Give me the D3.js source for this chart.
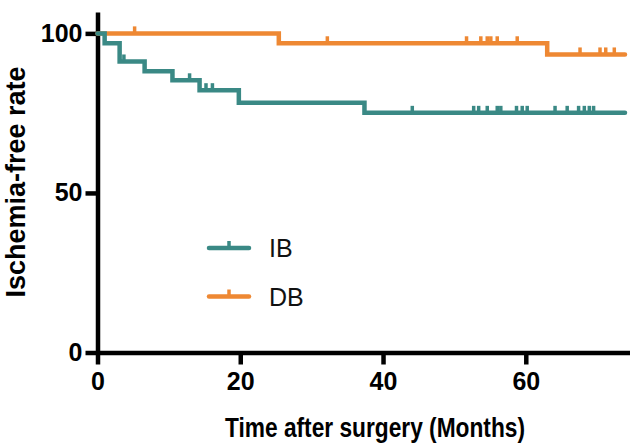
<!DOCTYPE html>
<html>
<head>
<meta charset="utf-8">
<script src="https://cdn.jsdelivr.net/npm/d3@7"></script>
<style>
  body { margin: 0; background: #fff; }
  svg { display: block; }
  text { font-family: "Liberation Sans", Arial, sans-serif; }
</style>
</head>
<body>
<svg id="chart" width="630" height="445"></svg>
<script>
// survival steps: [time (months), survival % from that time on]
const ibSteps = [[0, 100], [1.0, 96.9], [3.1, 91.2], [6.6, 88.1], [10.5, 85.3], [14.3, 82.2], [19.8, 78.3], [37.4, 75.1]];
const dbSteps = [[0, 100], [25.4, 96.9], [63.0, 93.4]];
const ibCensored = [3.7, 12.9, 15.2, 16.1, 44.1, 52.7, 53.4, 54.6, 56.0, 56.5, 58.7, 59.5, 60.2, 64.1, 65.8, 67.4, 68.2, 68.9, 69.5];
const dbCensored = [5.2, 32.2, 51.7, 53.7, 54.6, 55.1, 56.0, 58.8, 67.6, 70.4, 71.2, 72.4];
const followUpEnd = 73.9;
const xTicks = [0, 20, 40, 60];
const yTicks = [0, 50, 100];

const colors = { IB: "#3a8985", DB: "#ee8833" };

const svg = d3.select("#chart");

const x = d3.scaleLinear().domain([0, 74.6]).range([97.5, 630]);
const y = d3.scaleLinear().domain([0, 106.7]).range([352.5, 12]);

// value of a step curve at time t
function survAt(steps, t) {
    let v = steps[0][1];
    steps.forEach(s => { if (s[0] <= t) v = s[1]; });
    return v;
}

const line = d3.line()
    .x(d => x(d[0]))
    .y(d => y(d[1]))
    .curve(d3.curveStepAfter);

function drawCurve(steps, censored, color) {
    let pts = steps.concat([[followUpEnd, steps[steps.length - 1][1]]]);
    svg.append("path")
        .datum(pts)
        .attr("fill", "none")
        .attr("stroke", color)
        .attr("stroke-width", 4.5)
        .attr("stroke-linecap", "round")
        .attr("stroke-linejoin", "miter")
        .attr("d", line);

    svg.append("g").selectAll("line")
        .data(censored)
        .enter().append("line")
        .attr("x1", d => x(d))
        .attr("x2", d => x(d))
        .attr("y1", d => y(survAt(steps, d)))
        .attr("y2", d => y(survAt(steps, d)) - 7)
        .attr("stroke", color)
        .attr("stroke-width", 3.5);
}

// Axes
const xAxis = svg.append("g")
    .attr("transform", `translate(0,${y(0)})`)
    .call(d3.axisBottom(x).tickValues(xTicks).tickSize(12).tickSizeOuter(0).tickPadding(8));

const yAxis = svg.append("g")
    .attr("transform", `translate(${x(0)},0)`)
    .call(d3.axisLeft(y).tickValues(yTicks).tickSize(12).tickSizeOuter(0).tickPadding(3));

[xAxis, yAxis].forEach(a => {
    a.select(".domain").attr("stroke", "#000").attr("stroke-width", 4.5);
    a.selectAll(".tick line").attr("stroke", "#000").attr("stroke-width", 4.5);
    a.selectAll(".tick text")
        .attr("fill", "#000")
        .style("font-size", "25px")
        .style("font-weight", "bold")
        .style("font-family", "'Liberation Sans', Arial, sans-serif");
});

drawCurve(dbSteps, dbCensored, colors.DB);
drawCurve(ibSteps, ibCensored, colors.IB);

// Axis titles
svg.append("text")
    .attr("x", 375)
    .attr("y", 437)
    .attr("text-anchor", "middle")
    .attr("textLength", 300)
    .attr("lengthAdjust", "spacingAndGlyphs")
    .style("font-size", "28px")
    .style("font-weight", "bold")
    .text("Time after surgery (Months)");

svg.append("text")
    .attr("transform", "translate(25,182) rotate(-90)")
    .attr("text-anchor", "middle")
    .attr("textLength", 231)
    .attr("lengthAdjust", "spacingAndGlyphs")
    .style("font-size", "27px")
    .style("font-weight", "bold")
    .text("Ischemia-free rate");

// Legend
const legend = [{ name: "IB", y: 248 }, { name: "DB", y: 296.5 }];
legend.forEach(l => {
    const g = svg.append("g");
    g.append("line")
        .attr("x1", 209).attr("x2", 249)
        .attr("y1", l.y).attr("y2", l.y)
        .attr("stroke", colors[l.name])
        .attr("stroke-width", 4.5)
        .attr("stroke-linecap", "round");
    g.append("line")
        .attr("x1", 229).attr("x2", 229)
        .attr("y1", l.y).attr("y2", l.y - 7)
        .attr("stroke", colors[l.name])
        .attr("stroke-width", 3.5);
    g.append("text")
        .attr("x", 269)
        .attr("y", l.y + 9)
        .style("font-size", "25px")
        .attr("fill", "#111")
        .text(l.name);
});
</script>
</body>
</html>
